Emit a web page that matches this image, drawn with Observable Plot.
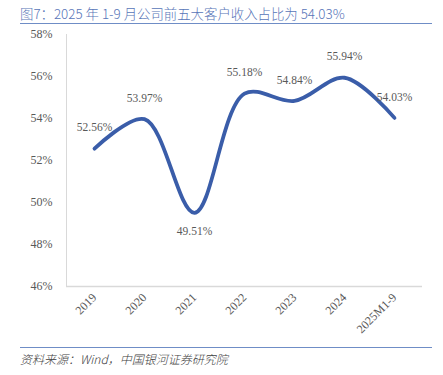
<!DOCTYPE html>
<html>
<head>
<meta charset="utf-8">
<script src="https://cdn.jsdelivr.net/npm/d3@7"></script>
<script src="https://cdn.jsdelivr.net/npm/@observablehq/plot@0.6"></script>
<style>
  html, body { margin: 0; padding: 0; background: #fff; }
  #wrap { position: relative; width: 443px; height: 375px; overflow: hidden; }
  #title { position: absolute; left: 20px; top: 3px; font-family: "Noto Sans CJK SC", "Noto Sans", sans-serif; font-weight: 300; font-size: 13.4px; color: #5775b8; white-space: nowrap; }
  #rule1 { position: absolute; left: 20px; top: 23px; width: 412px; height: 0; border-top: 1.5px solid #6f8dc6; }
  #chart { position: absolute; left: 0; top: 26px; }
  #rule2 { position: absolute; left: 20px; top: 347px; width: 412px; height: 0; border-top: 1.5px solid #6f8dc6; }
  #caption { position: absolute; left: 20px; top: 350px; font-family: "Noto Sans CJK SC", serif; font-weight: 300; font-style: italic; font-size: 12px; color: #404040; white-space: nowrap; }
</style>
</head>
<body>
<div id="wrap">
  <div id="title">图7：2025 年 1-9 月公司前五大客户收入占比为 54.03%</div>
  <div id="rule1"></div>
  <div id="chart"></div>
  <div id="rule2"></div>
  <div id="caption">资料来源：Wind，中国银河证券研究院</div>
</div>
<script>
const categories = ["2019", "2020", "2021", "2022", "2023", "2024", "2025M1-9"];
const values = [52.56, 53.97, 49.51, 55.18, 54.84, 55.94, 54.03];
const yTicks = [46, 48, 50, 52, 54, 56, 58];

const data = categories.map((c, i) => ({cat: c, v: values[i]}));
const minV = d3.min(values);
const above = data.filter(d => d.v !== minV);
const below = data.filter(d => d.v === minV);

const chart = Plot.plot({
  width: 443,
  height: 320,
  marginLeft: 66,
  marginRight: 21,
  marginTop: 8,
  marginBottom: 60,
  style: {fontFamily: "'Liberation Serif', serif", color: "#595959", background: "transparent"},
  x: {type: "point", domain: categories, padding: 0.5, label: null},
  y: {domain: [46, 58], ticks: yTicks, label: null},
  marks: [
    Plot.axisY({ticks: yTicks, tickSize: 0, tickPadding: 14, tickFormat: d => d + "%", fontSize: 12, fill: "#595959", label: null}),
    Plot.axisX({tickSize: 0, tickPadding: 9, tickRotate: -45, fontSize: 12, fill: "#595959", label: null}),
    Plot.frame({anchor: "left", stroke: "#d9d9d9", strokeWidth: 1}),
    Plot.ruleY([46], {stroke: "#d9d9d9", strokeWidth: 1.5}),
    Plot.line(data, {x: "cat", y: "v", curve: "catmull-rom", stroke: "#3a5da9", strokeWidth: 3.8, strokeLinecap: "round"}),
    Plot.text(above, {x: "cat", y: "v", text: d => d.v.toFixed(2) + "%", dy: -21, fontSize: 11.5, fill: "#595959"}),
    Plot.text(below, {x: "cat", y: "v", text: d => d.v.toFixed(2) + "%", dy: 19, fontSize: 11.5, fill: "#595959"})
  ]
});
document.getElementById("chart").appendChild(chart);
</script>
</body>
</html>
